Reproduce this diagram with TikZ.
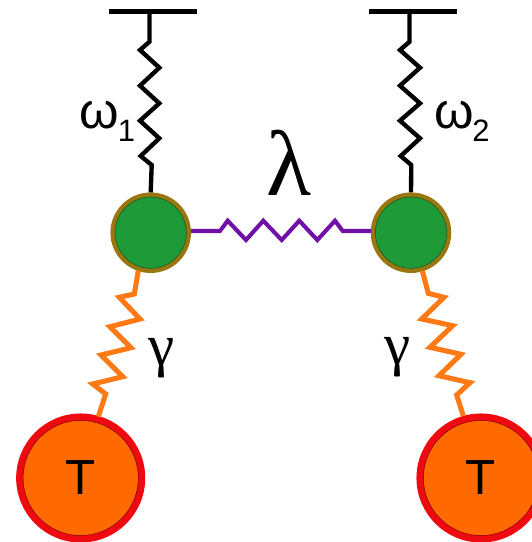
\documentclass[tikz,border=0pt]{standalone}
\usepackage{fontspec}
\setmainfont{Liberation Sans}
\newfontfamily\serifgreek{Liberation Serif}
\definecolor{sitefill}{HTML}{1E9B38}
\definecolor{siteedge}{HTML}{9A7610}
\definecolor{bathfill}{HTML}{FF6A00}
\definecolor{bathedge}{HTML}{EE0A10}
\definecolor{gammaline}{HTML}{FF7A14}
\definecolor{lambdaline}{HTML}{7010A8}
\begin{document}
\begin{tikzpicture}[x=0.025cm,y=-0.025cm,
  site/.style={circle,draw=siteedge,line width=3.2pt,fill=sitefill,minimum size=1.9cm,inner sep=0pt},
  bath/.style={circle,draw=bathedge,line width=5pt,fill=bathfill,minimum size=3.05cm,inner sep=0pt,font=\fontsize{35}{35}\selectfont},
  rim/.style={circle,draw=black!45!#1,line width=0.35pt,inner sep=0pt},
  spring/.style={line width=3.1pt,miter limit=10},
  wall/.style={line width=3.6pt},
  lab/.style={inner sep=0pt,font=\fontsize{36}{36}\selectfont},
  idx/.style={inner sep=0pt,font=\fontsize{22}{22}\selectfont}]
\useasboundingbox (0,0) rectangle (532,542);
\clip (0,0) rectangle (532,542);
% anchors on the walls
\coordinate (wallL) at (149.5,11.7);
\coordinate (wallR) at (409.5,11.7);
\coordinate (lamL) at (191,231);
\coordinate (lamR) at (371,231);
\draw[wall] (109,11.7) -- (197,11.7);
\draw[wall] (369,11.7) -- (457,11.7);
% sites and baths
\node[site] (siteL) at (150.7,232.7) {};
\node[site] (siteR) at (411,232.7) {};
\node[bath] (bathL) at (80.7,478) {T};
\node[bath] (bathR) at (481,478) {T};
\foreach \n in {siteL,siteR} \node[rim=sitefill,minimum size=1.78cm] at (\n) {};
\foreach \n in {bathL,bathR} \node[rim=bathedge,minimum size=2.88cm] at (\n) {};
% springs
\draw[spring] (wallL) -- (149.5,41.7) -- (140,50) -- (159.3,67.7) -- (140,85.7) -- (159.3,103.3) -- (140,120.7) -- (159.3,138.3) -- (140.7,156) -- (151.7,165) -- (siteL.north);
\draw[spring] (wallR) -- (409.5,41.7) -- (400,50) -- (420,67.7) -- (400,85.7) -- (420,103.3) -- (400,120.7) -- (420,138.3) -- (400.7,156) -- (411.3,165) -- (siteR.north);
\draw[spring,lambdaline,line width=2.9pt] (lamL) -- (220,231) -- (227.7,220.7) -- (246,240) -- (263.3,220.7) -- (281.7,240) -- (299.3,220.7) -- (317.3,240) -- (335,220.7) -- (342.7,231) -- (lamR);
\draw[spring,gammaline,line width=3.6pt] (siteL) ++(-12.4,38) coordinate (gL) (gL) -- (134.3,294) -- (119.3,297.3) -- (140,319) -- (110,326.7) -- (131,347.7) -- (101,355) -- (122.7,376.7) -- (92.7,384) -- (105.7,394) -- (98.3,416.7);
\draw[spring,gammaline,line width=3.6pt] (siteR) ++(11.3,38) coordinate (gR) (gR) -- (428.3,293.3) -- (444,297.3) -- (421.7,319) -- (452.7,325.7) -- (430,347.3) -- (461,354.3) -- (439,375.7) -- (470,382.7) -- (456.7,395) -- (463.3,416);
% labels
\node[lab] (omegaL) at (99.5,115) {ω};
\node[idx] (subL) at (126.5,131) {1};
\node[lab] (omegaR) at (454,115) {ω};
\node[idx] (subR) at (481,131) {2};
\node[lab,font=\serifgreek\fontsize{66}{66}\selectfont] (lam) at (289,163) {λ};
\node[lab,font=\serifgreek\fontsize{42}{42}\selectfont] (gamL) at (162,358) {γ};
\node[lab,font=\serifgreek\fontsize{42}{42}\selectfont] (gamR) at (398,357) {γ};
\end{tikzpicture}
\end{document}
